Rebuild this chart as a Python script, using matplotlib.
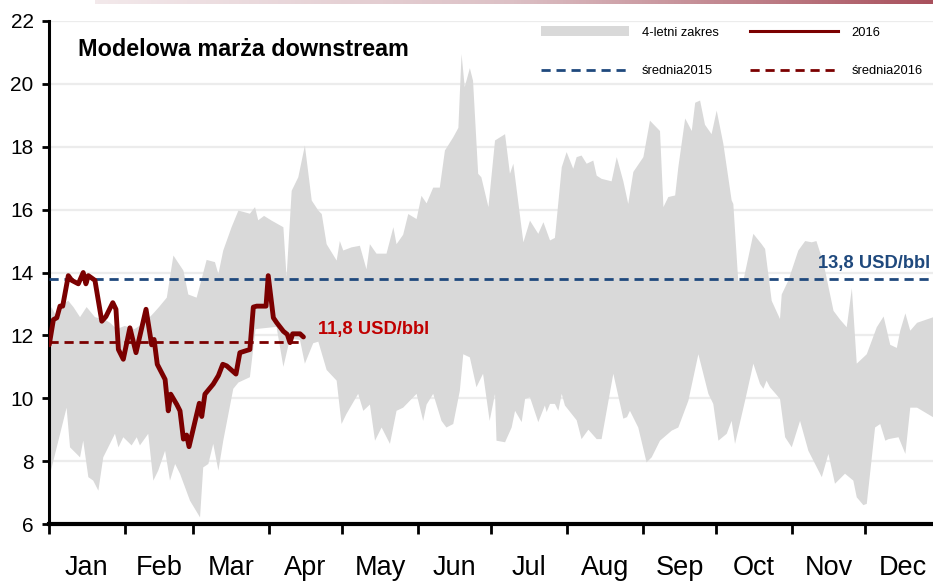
import numpy as np
import matplotlib
matplotlib.use("Agg")
import matplotlib.pyplot as plt
from matplotlib import font_manager
from matplotlib.patches import Patch
from matplotlib.lines import Line2D
from matplotlib.colors import LinearSegmentedColormap


def pick(names):
    for n in names:
        try:
            font_manager.findfont(n, fallback_to_default=False)
            return n
        except Exception:
            pass
    return "DejaVu Sans"


REG = pick(["Liberation Sans", "Arimo", "DejaVu Sans"])
NAR = pick(["Liberation Sans Narrow", "Liberation Sans", "DejaVu Sans"])
narrow_ok = NAR == "Liberation Sans Narrow"

# dane: dzien roku -> marza USD/bbl
months = ["Jan", "Feb", "Mar", "Apr", "May", "Jun", "Jul", "Aug", "Sep", "Oct", "Nov", "Dec"]
month_start = [0, 31, 59, 90, 120, 151, 181, 212, 243, 273, 304, 334]

days_2016 = [0.1, 1.8, 3.2, 4.5, 5.6, 7.9, 9.3, 12.0, 14.0, 15.1,
             16.1, 18.8, 21.6, 23.3, 26.1, 27.4, 28.4, 30.4, 33.1, 35.6,
             39.7, 42.0, 43.0, 44.3, 47.5, 48.8, 49.8, 52.3, 53.6, 55.0,
             56.3, 57.3, 61.5, 62.5, 63.8, 67.2, 69.3, 71.1, 72.7, 76.5,
             78.1, 80.9, 82.2, 83.6, 85.0, 88.8, 89.7, 91.8, 93.2, 95.9,
             97.5, 98.6, 99.7, 102.7, 104.1]
marza_2016 = [11.7, 12.5, 12.56, 12.93, 12.93, 13.9, 13.75, 13.64, 14.0, 13.64,
              13.9, 13.75, 12.45, 12.6, 13.04, 12.83, 11.55, 11.24, 12.24, 11.45,
              12.83, 11.7, 11.87, 11.08, 10.6, 9.6, 10.13, 9.8, 9.6, 8.7,
              8.83, 8.46, 9.84, 9.42, 10.13, 10.45, 10.72, 11.08, 11.03, 10.77,
              11.45, 11.52, 11.55, 12.9, 12.93, 12.93, 13.9, 12.56, 12.4, 12.13,
              12.03, 11.77, 12.05, 12.05, 11.95]

up_days = [0, 1, 3, 5.5, 7.9, 10, 12.7, 15.4, 18.8, 22.9, 25, 27.7, 31, 35, 39, 42.7, 45, 48.2,
           50.9, 55, 57, 60.4, 61.8, 64.5, 67.9, 69.3, 71.3, 74.7, 77.5, 82.2, 84.3, 85.6, 88,
           91.1, 95.9, 97.2, 99.3, 102, 104.7, 107.5, 110.2, 111.6, 113.6, 117.7, 119, 120.4,
           123.8, 127.2, 129.9, 131.3, 134, 138.1, 140.9, 142.2, 144.9, 147, 150.4, 152.4, 154.5,
           157.2, 159.9, 162, 165.4, 167.5, 168.8, 170.1, 172.2, 173.5, 175.6, 176.9, 179.8,
           182.5, 186.6, 188.6, 190, 194.1, 196.8, 200.2, 202.3, 205, 207, 209.8, 211.8, 214.5,
           215.9, 217.9, 220, 222.7, 224.1, 226.1, 230.2, 232.3, 235, 237, 239.1, 243.2, 245.9,
           250, 251.4, 253.4, 256.2, 257.5, 260.3, 263, 264.4, 266.4, 268.4, 271.1, 273.2, 275.9,
           279.3, 280, 282, 284.1, 288.2, 291.6, 293, 295.7, 299.1, 299.8, 302.5, 306.6, 309.4,
           312.1, 314, 316.9, 321, 323.7, 326.4, 328.5, 330.5, 334.6, 338.7, 341.5, 344.2, 346.9,
           348.3, 350.4, 352.4, 355.2, 361.9]
up_vals = [12.5, 12.9, 12.6, 13.0, 13.1, 12.9, 12.58, 12.9, 12.58, 12.5, 12.4, 12.2, 12.3, 12.2,
           12.4, 12.7, 12.9, 13.2, 14.54, 14.06, 13.3, 13.2, 13.6, 14.4, 14.33, 13.95, 14.7, 15.44,
           15.97, 15.87, 16.08, 15.66, 15.8, 15.65, 15.44, 13.85, 16.6, 17.03, 18.04, 16.29, 15.97,
           15.86, 14.9, 14.38, 15.0, 14.7, 14.8, 14.85, 14.1, 14.9, 14.6, 14.6, 15.44, 14.9, 15.2,
           15.86, 15.7, 16.44, 16.2, 16.7, 16.7, 17.88, 18.3, 18.6, 20.95, 19.9, 20.5, 20.1, 17.14,
           17.03, 16.08, 18.2, 18.4, 17.14, 17.46, 14.96, 15.65, 15.23, 15.6, 15.02, 15.1, 17.35,
           17.83, 17.3, 17.67, 17.72, 17.46, 17.56, 17.08, 16.98, 16.9, 17.67, 16.9, 16.18, 17.2,
           17.67, 18.83, 18.5, 16.08, 16.4, 16.45, 17.35, 18.9, 18.5, 19.4, 19.47, 18.7, 18.4,
           19.15, 18.1, 16.3, 16.18, 13.74, 13.74, 15.23, 14.9, 14.75, 13.1, 12.52, 13.3, 13.74,
           14.7, 15.0, 14.96, 15.0, 14.3, 12.78, 12.5, 12.26, 13.5, 11.1, 11.4, 12.26, 12.6, 11.7,
           11.6, 12.15, 12.7, 12.15, 12.4, 12.58]

lo_days = [0, 0.8, 7.2, 8.6, 12.7, 14.0, 16.1, 18.1, 20.2, 22.2, 27.0, 28.4, 30.4, 33.8, 35.9,
           37.2, 40.6, 42.7, 44.7, 47.5, 49.5, 51.6, 53.6, 57.7, 61.8, 63.1, 65.2, 67.2, 69.3,
           71.3, 75.4, 77.5, 82.2, 84.5, 93.1, 95.9, 98.6, 102.7, 104.7, 108.1, 110.2, 113.6,
           117.7, 119.7, 121.7, 126.5, 128.6, 131.3, 133.4, 136.1, 139.5, 142.2, 144.9, 150.4,
           153.1, 154.5, 157.2, 160.6, 162.6, 165.4, 168.1, 169.5, 172.2, 174.9, 177.6, 180.3,
           182.5, 183.1, 186.6, 189.3, 190.7, 193.4, 194.8, 196.8, 200.2, 202.9, 203.6, 205, 207,
           208.4, 209.8, 211.1, 215.9, 217.9, 220.7, 224.1, 226.1, 230.9, 235, 236.5, 237.7,
           241.1, 244.5, 246.6, 250, 254.8, 257.5, 261.6, 265.7, 269.8, 271.8, 273.9, 277.3,
           279.3, 280.7, 284.8, 288.2, 290.9, 292.3, 293.6, 295, 299.1, 301.2, 303.9, 307.3,
           310.7, 316.2, 318.9, 321.6, 325.7, 329.1, 330.5, 333.2, 334.6, 338, 340.1, 342.2,
           343.5, 347.6, 350.4, 352.4, 355.2, 361.9]
lo_vals = [7.6, 7.7, 9.7, 8.44, 8.12, 8.65, 7.49, 7.38, 7.06, 8.12, 8.87, 8.44, 8.76, 8.5, 8.76,
           8.5, 8.87, 7.38, 7.7, 8.33, 7.38, 7.91, 7.6, 6.74, 6.21, 7.8, 7.91, 8.55, 7.7, 8.65,
           10.3, 10.5, 10.67, 12.2, 12.27, 11.0, 11.9, 11.85, 11.1, 11.75, 11.8, 10.9, 10.56,
           9.18, 9.5, 10.14, 9.6, 9.8, 8.65, 9.07, 8.55, 9.6, 9.7, 10.14, 9.28, 9.8, 10.14, 9.28,
           9.07, 9.18, 10.24, 11.4, 11.3, 10.35, 10.78, 9.28, 10.14, 8.65, 8.6, 9.07, 9.6, 9.24,
           9.98, 10.03, 9.24, 9.77, 9.56, 9.82, 9.82, 9.6, 10.14, 9.77, 9.3, 8.7, 9.0, 8.7, 8.7,
           10.78, 9.35, 9.4, 9.6, 9.07, 7.96, 8.12, 8.65, 8.97, 9.07, 9.92, 11.4, 10.14, 9.82,
           8.65, 8.87, 9.28, 8.55, 9.92, 11.1, 10.46, 10.3, 10.56, 10.35, 9.98, 8.76, 8.44, 9.28,
           8.33, 7.49, 8.23, 7.28, 7.6, 7.38, 6.85, 6.6, 6.64, 9.07, 9.18, 8.65, 8.7, 8.76, 8.23,
           9.7, 9.7, 9.39]

avg_2015 = 13.8
avg_2016 = 11.8
avg_2016_end = 104.0

c_band = "#d9d9d9"
c_2016 = "#7b0000"
c_blue = "#1f497d"
c_red_txt = "#c00000"

# bez waskiej czcionki zmniejszamy rozmiar, zeby szerokosc tekstu sie zgadzala
k = 1.0 if narrow_ok else 0.8
title_fs = 21 * k
note_fs = 16.5 * k
leg_fs = 11.7 if narrow_ok else 9.3

fig = plt.figure(figsize=(9.33, 5.86), dpi=100)
ax = fig.add_axes([49 / 933, 62 / 586, 884 / 933, 503 / 586])

# pasek na gorze
bar = fig.add_axes([95 / 933, 1 - 4 / 586, 838 / 933, 4 / 586])
grad = np.linspace(0, 1, 256)[None, :]
cm = LinearSegmentedColormap.from_list("g", ["#f3e9eb", "#dcc0c5", "#a8505c"])
bar.imshow(grad, aspect="auto", cmap=cm)
bar.axis("off")

ax.fill(list(up_days) + list(lo_days[::-1]), list(up_vals) + list(lo_vals[::-1]),
        color=c_band, lw=0, zorder=1)
ax.axhline(avg_2015, color=c_blue, lw=2, ls=(0, (3.3, 2.1)), zorder=3)
ax.plot([0, avg_2016_end], [avg_2016, avg_2016], color=c_2016, lw=2,
        ls=(0, (3.3, 2.1)), zorder=3)
ax.plot(days_2016, marza_2016, color=c_2016, lw=3.5, zorder=4,
        solid_joinstyle="round", solid_capstyle="round")

ax.set_xlim(0, 361.7)
ax.set_ylim(6, 22)
ax.set_yticks(range(6, 23, 2))
ax.grid(axis="y", color="#ececec", lw=1.6, zorder=0)
ax.set_axisbelow(True)

ax.set_xticks(month_start)
ax.set_xticklabels([])
mids = [month_start[i] + ((month_start[i + 1] if i < 11 else 365) - month_start[i]) / 2
        for i in range(12)]
ax.set_xticks(mids, minor=True)
ax.set_xticklabels(months, minor=True, fontsize=19.5, family=REG)
ax.tick_params(axis="x", which="major", length=7, width=2, direction="out")
ax.tick_params(axis="x", which="minor", length=0, pad=22)
ax.tick_params(axis="y", length=5, width=2, pad=6, labelsize=15)
for t in ax.get_yticklabels():
    t.set_family(REG)

for s in ["top", "right"]:
    ax.spines[s].set_visible(False)
ax.spines["left"].set_linewidth(2.2)
ax.spines["bottom"].set_linewidth(3)

ax.text(0.033, 21.1, "Modelowa marża downstream", transform=ax.get_yaxis_transform(),
        fontsize=title_fs, fontweight="bold", family=NAR, va="center", ha="left")
ax.text(360.5, 14.3, "13,8 USD/bbl", color=c_blue, fontsize=note_fs, fontweight="bold",
        family=NAR, ha="right", va="center")
ax.text(110, 12.2, "11,8 USD/bbl", color=c_red_txt, fontsize=note_fs, fontweight="bold",
        family=NAR, ha="left", va="center")

handles = [Patch(color=c_band, lw=0),
           Line2D([], [], color=c_blue, lw=2, ls=(0, (3.3, 2.1))),
           Line2D([], [], color=c_2016, lw=2.2),
           Line2D([], [], color=c_2016, lw=2, ls=(0, (3.3, 2.1)))]
labels = ["4-letni zakres", "średnia2015", "2016", "średnia2016"]
fs_px = leg_fs * 100 / 72
ax.legend(handles, labels, ncol=2, frameon=False, loc="upper right",
          bbox_to_anchor=(929 / 933, 1 - 20 / 586), bbox_transform=fig.transFigure,
          prop={"family": NAR, "size": leg_fs}, handlelength=88 / fs_px,
          handletextpad=13 / fs_px, columnspacing=32 / fs_px,
          labelspacing=(39 - 0.95 * fs_px) / fs_px, borderpad=0)

fig.savefig("out.png", dpi=100)
